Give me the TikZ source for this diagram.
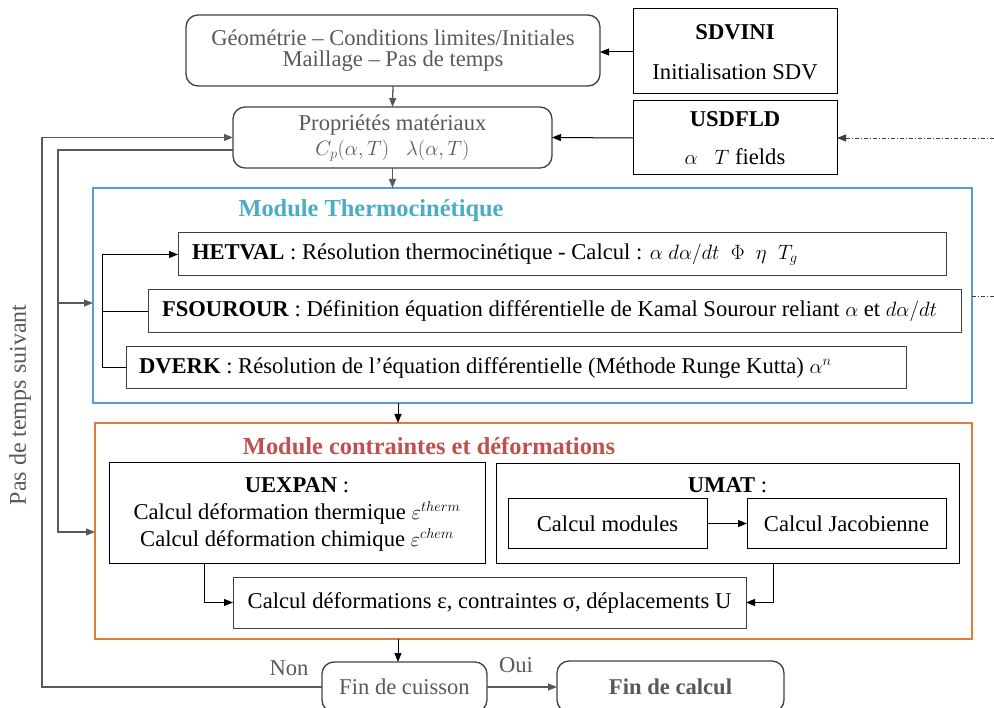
\documentclass[tikz,border=0pt]{standalone}
\usepackage{fontspec}
\setmainfont{Liberation Serif}
\usetikzlibrary{arrows.meta}
\definecolor{txtgray}{HTML}{595959}
\definecolor{linegray}{HTML}{595959}
\definecolor{boxgray}{HTML}{404040}
\definecolor{modblue}{HTML}{5B9BD5}
\definecolor{titleblue}{HTML}{4BACC6}
\definecolor{modorange}{HTML}{E07B39}
\definecolor{titlered}{HTML}{C0504D}
\newcommand{\mainsize}{\fontsize{22.6}{21}\selectfont}
\newcommand{\titlesize}{\fontsize{24.4}{24}\selectfont\bfseries}
\tikzset{
  every node/.style={font=\mainsize, inner sep=0pt, outer sep=0pt},
  rbox/.style={draw=boxgray, line width=1.3pt, rounded corners=12pt, text=txtgray, align=center},
  sbox/.style={draw=black, line width=1pt, align=center},
  tbox/.style={draw=boxgray, line width=1pt},
  arr/.style={-{Triangle[length=9pt,width=7pt]}, line width=1pt},
  garr/.style={-{Triangle[length=9pt,width=7pt]}, line width=1.3pt, draw=linegray},
  ddot/.style={line width=0.8pt, draw=boxgray, dash pattern=on 4pt off 2pt on 1pt off 2pt},
  lbl/.style={text=txtgray},
}
\begin{document}
\begin{tikzpicture}[x=1pt,y=-1pt]
\useasboundingbox (0,0) rectangle (994,708);
\clip (0,0) rectangle (994,708);
% top boxes
\node[rbox, minimum width=414pt, minimum height=71pt] (geo) at (393,50.5) {};
\node[text=txtgray, align=center] (geoT) at (393,50.5) {Géométrie – Conditions limites/Initiales\\Maillage – Pas de temps};
\node[sbox, minimum width=204pt, minimum height=85pt] (sdvini) at (735,51.5) {};
\node[font=\mainsize\bfseries] (sdviniT) at (735,32) {SDVINI};
\node (sdviniS) at (735,72) {Initialisation SDV};
\node[rbox, minimum width=319pt, minimum height=61pt] (prop) at (392.5,137.5) {};
\node[text=txtgray] (propT) at (392.5,125) {Propriétés matériaux};
\node[text=txtgray] (propS) at (392.5,151) {$C_p(\alpha,T)\ \ \ \lambda(\alpha,T)$};
\node[sbox, minimum width=204pt, minimum height=74pt] (usdfld) at (735,138) {};
\node[font=\mainsize\bfseries] (usdfldT) at (735,119) {USDFLD};
\node (usdfldS) at (735,157) {$\alpha\ \ \ T$ fields};
% thermo module
\node[draw=modblue, line width=1.5pt, minimum width=879pt, minimum height=215pt] (blue) at (532.5,295.5) {};
\node[text=titleblue, font=\titlesize] (title1) at (371,211) {Module Thermocinétique};
\node[tbox, minimum width=768pt, minimum height=43pt] (hetval) at (562,254.5) {};
\node[anchor=west] (hetvalT) at (192,254.5) {\textbf{HETVAL} : Résolution thermocinétique - Calcul : $\alpha\ d\alpha/dt\ \ \Phi\ \ \eta\ \ T_g$};
\node[tbox, minimum width=813pt, minimum height=43pt] (fsour) at (554.5,311.5) {};
\node[anchor=west] (fsourT) at (162,311.5) {\textbf{FSOUROUR} : Définition équation différentielle de Kamal Sourour reliant $\alpha$ et $d\alpha/dt$};
\node[tbox, minimum width=780pt, minimum height=42pt] (dverk) at (516,368) {};
\node[anchor=west] (dverkT) at (139,368) {\textbf{DVERK} : Résolution de l’équation différentielle (Méthode Runge Kutta) $\alpha^n$};
\coordinate (br) at (102,254.5);
\draw[arr] (dverk.west) -- (102,368) -- (br) -- (hetval.west);
\draw[line width=1pt] (fsour.west) -- (102,311.5);
% meca module
\node[draw=modorange, line width=1.5pt, minimum width=877pt, minimum height=216pt] (orange) at (533.5,531) {};
\node[text=titlered, font=\titlesize] (title2) at (429,446) {Module contraintes et déformations};
\node[sbox, minimum width=376pt, minimum height=100pt] (uexpan) at (297,513) {};
\node (uexpanT) at (297,485) {\textbf{UEXPAN} :};
\node (uexpanA) at (297,513) {Calcul déformation thermique $\varepsilon^{therm}$};
\node (uexpanB) at (297,540) {Calcul déformation chimique $\varepsilon^{chem}$};
\node[sbox, minimum width=463pt, minimum height=99pt] (umat) at (727.5,513.5) {};
\node (umatT) at (727.5,485) {\textbf{UMAT} :};
\node[sbox, minimum width=199pt, minimum height=49pt] (cmod) at (607.5,523.5) {Calcul modules};
\node[sbox, minimum width=199pt, minimum height=49pt] (cjac) at (846.5,523.5) {Calcul Jacobienne};
\draw[arr] (cmod) -- (cjac);
\node[tbox, minimum width=513pt, minimum height=51pt] (cdef) at (489.5,602.5) {Calcul déformations ε, contraintes σ, déplacements U};
\draw[arr] (uexpan.south -| 204,0) -- (204,602.5) -- (cdef.west);
\draw[arr] (umat.south -| 773,0) -- (773,602.5) -- (cdef.east);
% vertical flow
\draw[garr] (geo.south) -- (prop.north);
\draw[garr] (prop.south) -- (blue.north -| prop.south);
\draw[arr] (blue.south -| 398,0) -- (orange.north -| 398,0);
\draw[arr] (orange.south -| 398,0) -- (398,662);
\draw[arr] (sdvini.west |- 0,52) -- (geo.east |- 0,52);
\draw[arr] (usdfld.west) -- (prop.east);
% end boxes
\node[rbox, minimum width=165pt, minimum height=50pt] (fincuis) at (404.5,687) {Fin de cuisson};
\node[rbox, minimum width=227pt, minimum height=51pt, font=\mainsize\bfseries] (fincalc) at (670.5,686.5) {Fin de calcul};
\draw[garr] (fincuis.east) -- (fincalc.west |- fincuis.east);
\node[lbl] (non) at (289,668) {Non};
\node[lbl] (oui) at (516,665) {Oui};
% loops
\draw[garr] (fincuis.west) -- (42,687) -- (42,137.5) -- (prop.west);
\draw[garr] (prop.west |- 0,150) -- (58,150) -- (58,532) -- (orange.west |- 0,532);
\draw[garr] (58,303) -- (blue.west |- 0,303);
\node[lbl, rotate=90, font=\fontsize{24}{24}\selectfont] (pas) at (20,405) {Pas de temps suivant};
% dash-dot links
\coordinate (ext1) at (994,138);
\coordinate (ext2) at (994,296);
\draw[ddot, -{Triangle[length=9pt,width=7pt]}] (ext1) -- (usdfld.east);
\draw[ddot] (blue.east |- ext2) -- (ext2);
\end{tikzpicture}
\end{document}
